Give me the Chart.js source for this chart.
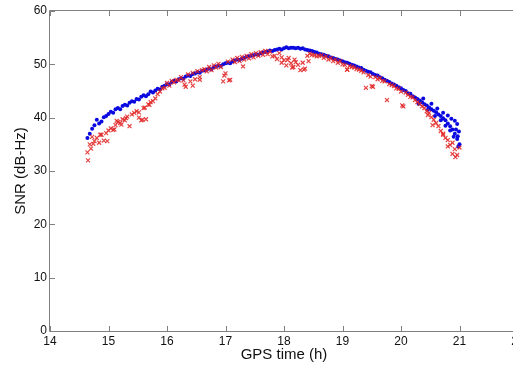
<!DOCTYPE html>
<html>
<head>
<meta charset="utf-8">
<script src="https://cdn.jsdelivr.net/npm/chart.js@4.4.0/dist/chart.umd.min.js"></script>
<style>
    html, body { margin: 0; padding: 0; overflow: hidden; background: #fff; }
    canvas { display: block; }
</style>
</head>
<body>
<canvas id="snrChart" width="530" height="365"></canvas>
<script>
// GPS time (h), shared by both signals
const times = [
    14.64, 14.68, 14.72, 14.76, 14.80, 14.84, 14.88, 14.92, 14.96, 15.00,
    15.04, 15.08, 15.12, 15.16, 15.20, 15.24, 15.28, 15.32, 15.36, 15.40,
    15.44, 15.48, 15.52, 15.56, 15.60, 15.64, 15.68, 15.72, 15.76, 15.80,
    15.84, 15.88, 15.92, 15.96, 16.00, 16.04, 16.08, 16.12, 16.16, 16.20,
    16.24, 16.28, 16.32, 16.36, 16.40, 16.44, 16.48, 16.52, 16.56, 16.60,
    16.64, 16.68, 16.72, 16.76, 16.80, 16.84, 16.88, 16.92, 16.96, 17.00,
    17.04, 17.08, 17.12, 17.16, 17.20, 17.24, 17.28, 17.32, 17.36, 17.40,
    17.44, 17.48, 17.52, 17.56, 17.60, 17.64, 17.68, 17.72, 17.76, 17.80,
    17.84, 17.88, 17.92, 17.96, 18.00, 18.04, 18.08, 18.12, 18.16, 18.20,
    18.24, 18.28, 18.32, 18.36, 18.40, 18.44, 18.48, 18.52, 18.56, 18.60,
    18.64, 18.68, 18.72, 18.76, 18.80, 18.84, 18.88, 18.92, 18.96, 19.00,
    19.04, 19.08, 19.12, 19.16, 19.20, 19.24, 19.28, 19.32, 19.36, 19.40,
    19.44, 19.48, 19.52, 19.56, 19.60, 19.64, 19.68, 19.72, 19.76, 19.80,
    19.84, 19.88, 19.92, 19.96, 20.00, 20.04, 20.08, 20.12, 20.16, 20.20,
    20.24, 20.28, 20.32, 20.36, 20.40, 20.44, 20.48, 20.52, 20.56, 20.60,
    20.64, 20.68, 20.72, 20.76, 20.80, 20.84, 20.88, 20.92, 20.96, 21.00
];

// blue dots (dB-Hz)
const blueSnr = [
    36.2, 37.0, 37.9, 38.6, 39.6, 38.9, 39.3, 40.1, 40.3, 40.7,
    41.1, 40.9, 41.6, 41.8, 41.6, 42.2, 42.4, 42.3, 42.8, 43.1,
    43.0, 43.5, 43.4, 43.9, 44.2, 44.0, 44.4, 44.9, 44.7, 45.1,
    45.4, 45.3, 45.8, 46.0, 46.3, 46.2, 46.7, 46.9, 46.8, 47.2,
    47.4, 47.3, 47.7, 47.9, 47.8, 48.2, 48.3, 48.5, 48.4, 48.8,
    48.9, 49.0, 49.2, 49.1, 49.5, 49.6, 49.8, 49.7, 50.0, 50.2,
    50.3, 50.2, 50.6, 50.7, 50.9, 50.8, 51.1, 51.2, 51.4, 51.5,
    51.6, 51.7, 51.9, 51.8, 52.1, 52.2, 52.3, 52.4, 52.6, 52.5,
    52.7, 52.8, 52.9, 52.8, 53.0, 53.2, 53.0, 53.1, 53.1, 53.0,
    53.1, 52.9, 53.0, 52.8, 52.7, 52.6, 52.5, 52.3, 52.2, 52.0,
    51.9, 51.8, 51.6, 51.5, 51.3, 51.2, 51.0, 50.9, 50.7, 50.6,
    50.4, 50.3, 50.1, 49.9, 49.8, 49.6, 49.4, 49.3, 49.0, 48.8,
    48.6, 48.5, 48.2, 48.0, 47.9, 47.6, 47.4, 47.1, 46.9, 46.7,
    46.4, 46.2, 46.0, 45.7, 45.5, 45.2, 45.0, 44.6, 44.5, 44.0,
    43.8, 43.5, 43.2, 42.9, 42.5, 42.3, 41.9, 41.6, 41.3, 41.0,
    40.6, 40.3, 39.9, 39.5, 38.9, 38.4, 37.8, 37.0, 36.0, 35.0
];

// red crosses (dB-Hz)
const redSnr = [
    33.5, 35.0, 36.4, 35.6, 36.2, 35.3, 36.8, 35.7, 37.1, 37.6,
    38.0, 37.7, 38.6, 39.2, 39.0, 39.7, 39.5, 40.2, 38.4, 40.6,
    40.9, 41.2, 41.0, 39.5, 41.8, 39.7, 42.5, 42.9, 43.1, 43.6,
    44.4, 44.9, 45.5, 45.6, 46.5, 46.0, 46.9, 46.6, 47.1, 47.0,
    47.6, 47.0, 45.8, 48.1, 46.8, 48.4, 47.2, 48.7, 47.1, 48.9,
    49.1, 48.7, 49.5, 48.9, 49.8, 49.4, 50.1, 49.5, 46.8, 48.3,
    50.5, 47.1, 50.9, 50.4, 51.2, 50.6, 51.4, 50.9, 51.6, 51.1,
    51.9, 51.3, 52.1, 51.6, 52.3, 51.8, 52.5, 51.9, 52.4, 51.5,
    51.6, 51.0, 52.1, 51.3, 50.8, 49.8, 51.2, 50.2, 49.5, 50.4,
    49.9, 48.9, 50.3, 49.2, 51.6, 52.0, 51.8, 51.7, 51.5, 51.6,
    51.7, 51.2, 51.5, 50.9, 51.2, 50.6, 50.9, 50.3, 50.6, 50.0,
    49.9, 49.0, 49.7, 49.5, 49.4, 49.1, 49.0, 48.8, 48.5, 45.6,
    48.0, 47.7, 45.8, 47.6, 47.2, 47.4, 46.9, 46.8, 43.3, 46.3,
    46.1, 45.9, 45.5, 45.4, 44.9, 42.1, 44.7, 44.3, 43.9, 43.8,
    43.3, 42.9, 42.6, 42.1, 41.8, 41.2, 40.9, 40.1, 39.6, 39.0,
    38.4, 37.5, 37.0, 36.2, 35.8, 34.9, 35.3, 34.1, 33.0, 34.4
];

// extra blue dots where the track scatters near setting
const blueTailTimes = [20.30, 20.38, 20.46, 20.52, 20.58, 20.62, 20.68, 20.72, 20.76, 20.80,
    20.84, 20.86, 20.90, 20.92, 20.94, 20.96, 20.97, 20.98, 20.99];
const blueTailSnr = [42.6, 43.6, 41.5, 42.6, 40.3, 41.7, 39.5, 40.9, 38.5, 40.4,
    37.6, 39.8, 36.4, 39.4, 37.8, 38.8, 36.5, 34.6, 37.4];

// extra red crosses
const redExtraTimes = [14.65, 14.70, 14.74, 14.86, 14.98, 15.10, 15.14, 15.22, 15.30, 15.52,
    15.58, 15.62, 15.70, 16.30, 16.44, 16.56, 16.98, 17.06, 17.30, 17.96,
    18.06, 18.14, 18.18, 18.34, 18.42, 19.08, 19.50, 20.02, 20.46, 20.54,
    20.72, 20.80, 20.88, 20.93];
const redExtraSnr = [32.0, 34.2, 35.1, 36.8, 35.6, 37.8, 39.4, 38.7, 39.9, 40.0,
    39.6, 41.9, 42.4, 46.2, 46.0, 47.6, 47.9, 47.0, 49.6, 50.3,
    50.8, 49.4, 50.9, 49.0, 50.6, 49.0, 45.9, 42.3, 40.5, 38.6,
    36.8, 34.6, 33.2, 32.6];

const xTicks = [14, 15, 16, 17, 18, 19, 20, 21, 22];
const yTicks = [0, 10, 20, 30, 40, 50, 60];

function toPoints(xs, ys) {
    return xs.map((x, i) => ({x: x, y: ys[i]}));
}

// matlab style box with inward ticks
const axesBox = {
    id: 'axesBox',
    afterDatasetsDraw(chart) {
        const {ctx, chartArea: a, scales: {x, y}} = chart;
        const len = 5;
        ctx.save();
        ctx.strokeStyle = '#808080';
        ctx.lineWidth = 1;
        ctx.beginPath();
        ctx.moveTo(a.left - 0.5, a.top - 0.5);
        ctx.lineTo(a.right + 0.5, a.top - 0.5);
        ctx.lineTo(a.right + 0.5, a.bottom + 0.5);
        ctx.lineTo(a.left - 0.5, a.bottom + 0.5);
        ctx.closePath();
        xTicks.forEach(v => {
            const px = Math.round(x.getPixelForValue(v)) + 0.5;
            ctx.moveTo(px, a.bottom);
            ctx.lineTo(px, a.bottom - len);
            ctx.moveTo(px, a.top);
            ctx.lineTo(px, a.top + len);
        });
        yTicks.forEach(v => {
            const py = Math.round(y.getPixelForValue(v)) + 0.5;
            ctx.moveTo(a.left, py);
            ctx.lineTo(a.left + len, py);
            ctx.moveTo(a.right, py);
            ctx.lineTo(a.right - len, py);
        });
        ctx.stroke();
        ctx.restore();
    }
};

Chart.defaults.font.family = "'Liberation Sans', Arial, sans-serif";
Chart.defaults.color = '#111';

new Chart(document.getElementById('snrChart'), {
    type: 'scatter',
    data: {
        datasets: [
            {
                label: 'red',
                data: toPoints(times, redSnr).concat(toPoints(redExtraTimes, redExtraSnr)),
                pointStyle: 'crossRot',
                pointRadius: 2.8,
                borderWidth: 1.2,
                borderColor: 'rgba(225, 35, 35, 0.85)',
                backgroundColor: 'rgba(225, 35, 35, 0.85)'
            },
            {
                label: 'blue',
                data: toPoints(times, blueSnr).concat(toPoints(blueTailTimes, blueTailSnr)),
                pointStyle: 'circle',
                pointRadius: 2,
                borderWidth: 0,
                backgroundColor: '#0a0ae0'
            }
        ]
    },
    options: {
        responsive: false,
        animation: false,
        layout: {padding: {top: 11, right: 12, left: 0, bottom: 0}},
        plugins: {legend: {display: false}, tooltip: {enabled: false}},
        scales: {
            x: {
                type: 'linear',
                min: 14,
                max: 22,
                afterBuildTicks: s => { s.ticks = xTicks.map(v => ({value: v})); },
                afterFit: s => { s.height = 34; },
                grid: {display: false, drawTicks: false},
                border: {display: false},
                ticks: {padding: 3, font: {size: 12}, maxRotation: 0},
                title: {display: true, text: 'GPS time (h)', font: {size: 15}, padding: {top: 0, bottom: 1}}
            },
            y: {
                min: 0,
                max: 60,
                afterBuildTicks: s => { s.ticks = yTicks.map(v => ({value: v})); },
                afterFit: s => { s.width = 50; },
                grid: {display: false, drawTicks: false},
                border: {display: false},
                ticks: {padding: 3, font: {size: 12}},
                title: {display: true, text: 'SNR (dB-Hz)', font: {size: 15}, padding: {top: 12, bottom: 0}}
            }
        }
    },
    plugins: [axesBox]
});
</script>
</body>
</html>
